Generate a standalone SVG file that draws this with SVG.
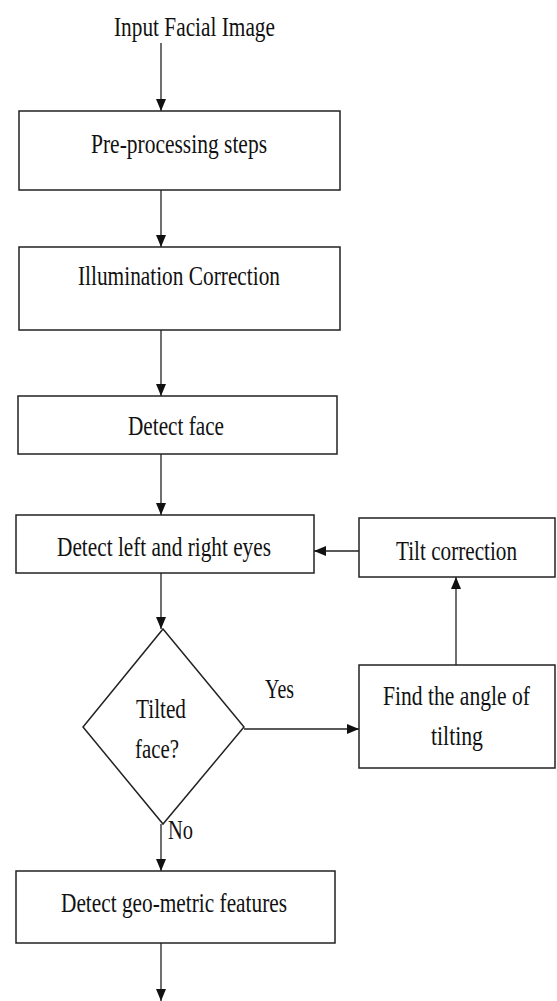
<svg xmlns="http://www.w3.org/2000/svg" width="557" height="1001" viewBox="0 0 557 1001">
<style>
  .box { fill: #ffffff; stroke: #222; stroke-width: 1.5; }
  .lbl { font-family: "Liberation Serif", "Times New Roman", serif; font-size: 27px; fill: #111; text-anchor: middle; }
  .edge { fill: none; stroke: #222; stroke-width: 1.3; marker-end: url(#arrow); }
</style>
<defs>
  <marker id="arrow" markerUnits="userSpaceOnUse" markerWidth="12" markerHeight="12" viewBox="0 0 12 12" refX="12" refY="6" orient="auto">
    <path d="M0,1 L12,6 L0,11 Z" fill="#111"/>
  </marker>
</defs>
<rect width="557" height="1001" fill="#ffffff"/>

<g id="connectors">
  <line class="edge" x1="161" y1="43" x2="161" y2="111"/>
  <line class="edge" x1="161" y1="190" x2="161" y2="247"/>
  <line class="edge" x1="161" y1="330" x2="161" y2="396"/>
  <line class="edge" x1="161" y1="454" x2="161" y2="515"/>
  <line class="edge" x1="161" y1="573" x2="161" y2="629"/>
  <line class="edge" x1="244" y1="729" x2="359" y2="729"/>
  <line class="edge" x1="456" y1="665" x2="456" y2="577"/>
  <line class="edge" x1="359" y1="551" x2="314" y2="551"/>
  <line class="edge" x1="161" y1="824" x2="161" y2="871"/>
  <line class="edge" x1="161" y1="943" x2="161" y2="1001"/>
  <text class="lbl" x="279.5" y="698" textLength="29" lengthAdjust="spacingAndGlyphs">Yes</text>
  <text class="lbl" x="180.5" y="839" textLength="25" lengthAdjust="spacingAndGlyphs">No</text>
</g>

<g id="input">
  <text class="lbl" x="194.5" y="36" textLength="161" lengthAdjust="spacingAndGlyphs">Input Facial Image</text>
</g>

<g id="preprocessing">
  <rect class="box" x="19" y="111" width="321" height="79"/>
  <text class="lbl" x="179" y="153" textLength="176" lengthAdjust="spacingAndGlyphs">Pre-processing steps</text>
</g>

<g id="illumination">
  <rect class="box" x="19" y="247" width="321" height="83"/>
  <text class="lbl" x="179" y="285" textLength="202" lengthAdjust="spacingAndGlyphs">Illumination Correction</text>
</g>

<g id="detect-face">
  <rect class="box" x="18" y="396" width="319" height="58"/>
  <text class="lbl" x="176" y="435" textLength="96" lengthAdjust="spacingAndGlyphs">Detect face</text>
</g>

<g id="detect-eyes">
  <rect class="box" x="16" y="515" width="298" height="58"/>
  <text class="lbl" x="164" y="556" textLength="214" lengthAdjust="spacingAndGlyphs">Detect left and right eyes</text>
</g>

<g id="tilt-correction">
  <rect class="box" x="359" y="518" width="196" height="59"/>
  <text class="lbl" x="456.5" y="560" textLength="121" lengthAdjust="spacingAndGlyphs">Tilt correction</text>
</g>

<g id="tilted-face">
  <polygon class="box" points="163,629 244,727 163,824 83,727"/>
  <text class="lbl" x="161" y="718" textLength="50" lengthAdjust="spacingAndGlyphs">Tilted</text>
  <text class="lbl" x="157" y="758" textLength="44" lengthAdjust="spacingAndGlyphs">face?</text>
</g>

<g id="find-angle">
  <rect class="box" x="359" y="665" width="196" height="103"/>
  <text class="lbl" x="456.5" y="705" textLength="147" lengthAdjust="spacingAndGlyphs">Find the angle of</text>
  <text class="lbl" x="457" y="745" textLength="52" lengthAdjust="spacingAndGlyphs">tilting</text>
</g>

<g id="geometric">
  <rect class="box" x="16" y="871" width="319" height="72"/>
  <text class="lbl" x="174" y="912" textLength="226" lengthAdjust="spacingAndGlyphs">Detect geo-metric features</text>
</g>
</svg>
